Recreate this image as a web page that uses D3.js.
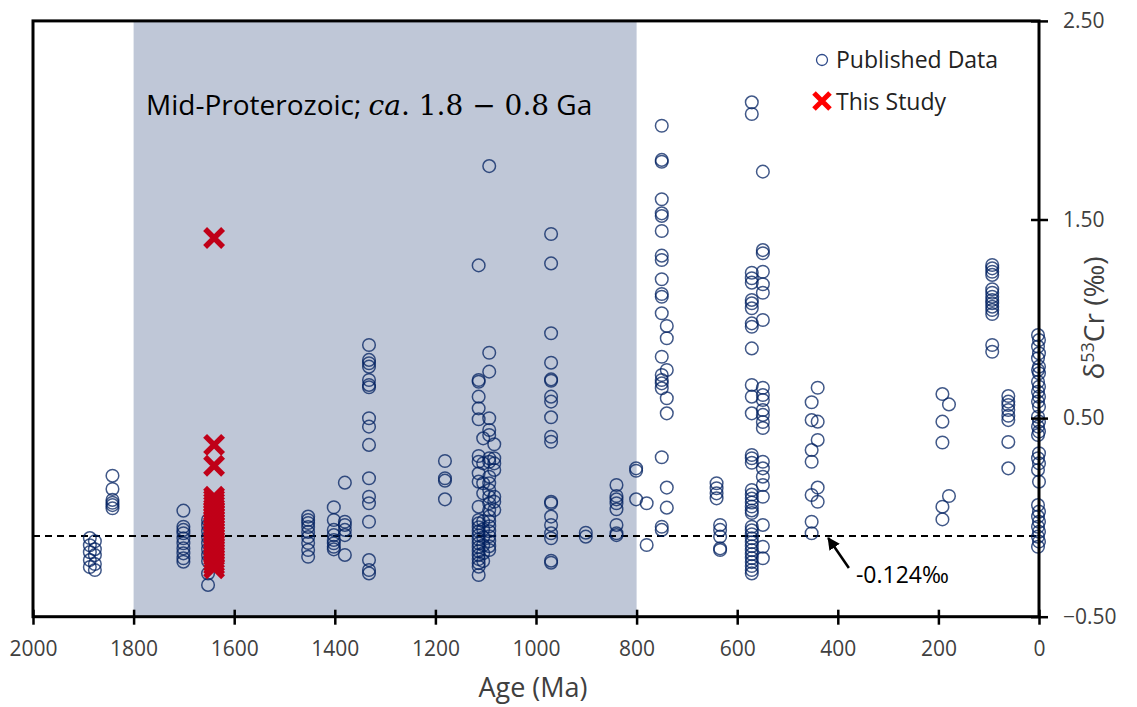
<!DOCTYPE html>
<html>
<head>
<meta charset="utf-8">
<script src="https://cdn.jsdelivr.net/npm/d3@7"></script>
<style>
  body { margin: 0; background: #fff; }
  text { font-family: "Open Sans", "Noto Sans", sans-serif; }
</style>
</head>
<body>
<div id="chart"></div>
<script>
// ---- data (age in Ma, d53Cr in permil) ----
var publishedGroups = [
  [1887, [-0.104, -0.14, -0.175, -0.215, -0.25]],
  [1877, [-0.12, -0.16, -0.19, -0.235, -0.265]],
  [1842, [0.21, 0.143, 0.088, 0.074, 0.062, 0.046]],
  [1701, [0.034, -0.047, -0.063, -0.08, -0.105, -0.13, -0.156, -0.181, -0.206, -0.223]],
  [1652, [-0.013, -0.04, -0.07, -0.1, -0.13, -0.16, -0.19, -0.22, -0.282, -0.34]],
  [1453, [0.004, -0.013, -0.028, -0.048, -0.073, -0.099, -0.129, -0.164, -0.198]],
  [1402, [0.051, -0.013, -0.063, -0.089, -0.114, -0.13, -0.148, -0.161]],
  [1380, [0.175, -0.022, -0.038, -0.063, -0.089, -0.189]],
  [1332, [0.868, 0.793, 0.776, 0.759, 0.692, 0.667, 0.655, 0.499, 0.457, 0.365, 0.197, 0.104, 0.071, -0.022, -0.215, -0.265, -0.282]],
  [1181, [0.284, 0.197, 0.185, 0.091]],
  [1114, [1.269, 0.692, 0.683, 0.608, 0.549, 0.494, 0.309, 0.28, 0.222, 0.18, 0.054, -0.013, -0.03, -0.05, -0.07, -0.09, -0.11, -0.13, -0.15, -0.17, -0.19, -0.21, -0.23, -0.248, -0.29]],
  [1105, [0.398, 0.272, 0.172, 0.121, -0.02, -0.06, -0.1, -0.14, -0.18, -0.22]],
  [1093, [1.769, 0.829, 0.734, 0.499, 0.44, 0.415, 0.298, 0.28, 0.205, 0.172, 0.138, 0.104, 0.071, 0.037, 0.004, -0.02, -0.045, -0.07, -0.095, -0.12, -0.145, -0.164]],
  [1083, [0.368, 0.298, 0.272, 0.239, 0.104, 0.079, 0.037]],
  [970, [1.427, 1.279, 0.927, 0.779, 0.695, 0.688, 0.608, 0.583, 0.504, 0.406, 0.381, 0.079, 0.071, 0.004, -0.038, -0.08, -0.105, -0.218, -0.228]],
  [901, [-0.077, -0.097]],
  [840, [0.163, 0.108, 0.091, 0.071, 0.041, -0.038, -0.08, -0.089]],
  [801, [0.247, 0.235, 0.091]],
  [780, [0.071, -0.139]],
  [750, [1.972, 1.80, 1.791, 1.602, 1.531, 1.518, 1.442, 1.318, 1.296, 1.199, 1.125, 1.111, 1.028, 0.809, 0.717, 0.692, 0.675, 0.65, 0.303, -0.047, -0.063]],
  [740, [0.964, 0.902, 0.742, 0.6, 0.524, 0.15, 0.049]],
  [641, [0.172, 0.147, 0.121, 0.096]],
  [634, [-0.038, -0.063, -0.097, -0.156, -0.164]],
  [571, [2.09, 2.031, 1.232, 1.204, 1.182, 1.095, 1.078, 1.053, 0.977, 0.96, 0.851, 0.667, 0.608, 0.524, 0.314, 0.298, 0.275, 0.138, 0.115, 0.095, 0.075, 0.055, 0.035, 0.022, -0.047, -0.065, -0.085, -0.105, -0.125, -0.145, -0.165, -0.185, -0.205, -0.225, -0.245, -0.265, -0.282]],
  [549, [1.741, 1.346, 1.33, 1.237, 1.174, 1.131, 0.994, 0.653, 0.616, 0.591, 0.541, 0.516, 0.48, 0.45, 0.28, 0.247, 0.205, 0.163, 0.104, -0.038, -0.148, -0.206]],
  [452, [0.58, 0.49, 0.339, 0.28, 0.113, -0.022, -0.08]],
  [440, [0.653, 0.482, 0.39, 0.15, 0.079]],
  [192, [0.621, 0.482, 0.377, 0.054, -0.01]],
  [179, [0.569, 0.108]],
  [93, [1.271, 1.254, 1.237, 1.221, 1.149, 1.131, 1.111, 1.095, 1.078, 1.061, 1.044, 1.024, 0.868, 0.834]],
  [61, [0.611, 0.583, 0.566, 0.541, 0.512, 0.49, 0.38, 0.247]],
  [2, [0.918, 0.86, 0.801, 0.742, 0.683, 0.633, 0.583, 0.507, 0.457, 0.415, 0.298, 0.239, 0.062, 0.004, -0.047, -0.097, -0.148]],
  [0, [0.893, 0.826, 0.759, 0.726, 0.658, 0.608, 0.557, 0.482, 0.432, 0.323, 0.272, 0.18, 0.029, -0.022, -0.072, -0.122]]
];

var studyAge = 1640;
var studyCr = [1.407, 0.365, 0.26, 0.104, 0.09, 0.075, 0.06, 0.045, 0.03, 0.015, 0.0, -0.015, -0.03, -0.045,
  -0.06, -0.075, -0.09, -0.105, -0.12, -0.135, -0.15, -0.165, -0.18, -0.195, -0.21, -0.225, -0.24, -0.256];

var xTicks = [2000, 1800, 1600, 1400, 1200, 1000, 800, 600, 400, 200, 0];
var yTicks = [-0.5, 0.5, 1.5, 2.5];
var shadeRange = [1800, 800];
var refLine = -0.094;          // dashed line as drawn
var refLabel = "-0.124‰";

////////////////////////////////// D3 //////////////////////////////////
var width = 1137;
var height = 707;

var svg = d3.select('#chart')
  .append('svg')
  .attr('width', width)
  .attr('height', height);

var x = d3.scaleLinear().domain([2000, 0]).range([33, 1039]);
var y = d3.scaleLinear().domain([-0.5, 2.5]).range([616.7, 20.9]);

// shaded Mid-Proterozoic band
svg.append('rect')
  .attr('x', x(shadeRange[0]))
  .attr('y', y(2.5))
  .attr('width', x(shadeRange[1]) - x(shadeRange[0]))
  .attr('height', y(-0.5) - y(2.5))
  .attr('fill', '#bfc7d7');

// dashed reference line
svg.append('line')
  .attr('x1', x(2000)).attr('x2', x(0))
  .attr('y1', y(refLine)).attr('y2', y(refLine))
  .attr('stroke', '#000')
  .attr('stroke-width', 2)
  .attr('stroke-dasharray', '7,5');

// flatten published data
var published = [];
publishedGroups.forEach(function(g) {
  g[1].forEach(function(v) { published.push({ age: g[0], cr: v }); });
});

svg.selectAll('.pub')
  .data(published)
  .enter()
  .append('circle')
  .attr('class', 'pub')
  .attr('cx', function(d) { return x(d.age); })
  .attr('cy', function(d) { return y(d.cr); })
  .attr('r', 6.3)
  .attr('fill', 'none')
  .attr('stroke', '#002060')
  .attr('stroke-opacity', 0.75)
  .attr('stroke-width', 1.5);

// this study - red crosses
var cross = 'M-9,-9L9,9M-9,9L9,-9';
svg.selectAll('.study')
  .data(studyCr)
  .enter()
  .append('path')
  .attr('class', 'study')
  .attr('transform', function(d) { return 'translate(' + x(studyAge) + ',' + y(d) + ')'; })
  .attr('d', cross)
  .attr('stroke', '#c00018')
  .attr('stroke-width', 5.5);

// frame
svg.append('rect')
  .attr('x', x(2000)).attr('y', y(2.5))
  .attr('width', x(0) - x(2000))
  .attr('height', y(-0.5) - y(2.5))
  .attr('fill', 'none')
  .attr('stroke', '#000')
  .attr('stroke-width', 3);

// bottom axis
var xAxis = svg.append('g')
  .attr('transform', 'translate(0,' + y(-0.5) + ')')
  .call(d3.axisBottom(x).tickValues(xTicks).tickFormat(d3.format('d')).tickSize(7));
xAxis.select('.domain').remove();
xAxis.selectAll('line').attr('y1', -7).attr('y2', 8).attr('stroke', '#000').attr('stroke-width', 2.5);
xAxis.selectAll('text')
  .attr('y', 24)
  .attr('dy', '0.71em')
  .attr('fill', '#404040')
  .style('font-size', '21px')
  .style('font-family', '"Open Sans", sans-serif');

// right axis
var yAxis = svg.append('g')
  .attr('transform', 'translate(' + x(0) + ',0)')
  .call(d3.axisRight(y).tickValues(yTicks).tickFormat(d3.format('.2f')).tickSize(8));
yAxis.select('.domain').remove();
yAxis.selectAll('line').attr('x1', -8).attr('x2', 9).attr('stroke', '#000').attr('stroke-width', 2.5);
yAxis.selectAll('text')
  .attr('x', 24)
  .attr('fill', '#404040')
  .style('font-size', '21px')
  .style('font-family', '"Open Sans", sans-serif');

// axis titles
svg.append('text')
  .attr('x', 533).attr('y', 697)
  .attr('text-anchor', 'middle')
  .attr('fill', '#404040')
  .style('font-size', '27px')
  .text('Age (Ma)');

var yLab = svg.append('text')
  .attr('transform', 'translate(1104,318) rotate(-90)')
  .attr('text-anchor', 'middle')
  .attr('fill', '#404040')
  .style('font-size', '28px');
yLab.append('tspan').text('δ');
yLab.append('tspan').attr('dy', -10).style('font-size', '18px').text('53');
yLab.append('tspan').attr('dy', 10).text('Cr (‰)');

// period label
var title = svg.append('text')
  .attr('x', 146).attr('y', 115)
  .attr('fill', '#000')
  .style('font-size', '28px');
title.append('tspan').text('Mid-Proterozoic; ');
title.append('tspan').style('font-family', '"DejaVu Serif", serif').style('font-style', 'italic').text('ca');
title.append('tspan').style('font-family', '"DejaVu Serif", serif').text('. 1.8 − 0.8');
title.append('tspan').text(' Ga');

// legend
svg.append('circle')
  .attr('cx', 822).attr('cy', 60).attr('r', 5.5)
  .attr('fill', 'none').attr('stroke', '#2f4b8a').attr('stroke-width', 1.3);
svg.append('text').attr('x', 836).attr('y', 68).style('font-size', '23px').attr('fill', '#222').text('Published Data');
svg.append('path')
  .attr('transform', 'translate(822,101)')
  .attr('d', 'M-8,-8L8,8M-8,8L8,-8')
  .attr('stroke', '#ff0000').attr('stroke-width', 5);
svg.append('text').attr('x', 836).attr('y', 110).style('font-size', '23px').attr('fill', '#222').text('This Study');

// annotation arrow
svg.append('defs').append('marker')
  .attr('id', 'arrow')
  .attr('viewBox', '0 0 10 10')
  .attr('refX', 9).attr('refY', 5)
  .attr('markerWidth', 5).attr('markerHeight', 5)
  .attr('orient', 'auto')
  .append('path').attr('d', 'M0,0L10,5L0,10Z').attr('fill', '#000');

svg.append('line')
  .attr('x1', x(378)).attr('y1', y(-0.255))
  .attr('x2', x(419)).attr('y2', y(-0.104))
  .attr('stroke', '#000').attr('stroke-width', 2.5)
  .attr('marker-end', 'url(#arrow)');

svg.append('text')
  .attr('x', x(364)).attr('y', y(-0.33))
  .style('font-size', '23px')
  .attr('fill', '#000')
  .text(refLabel);
</script>
</body>
</html>
